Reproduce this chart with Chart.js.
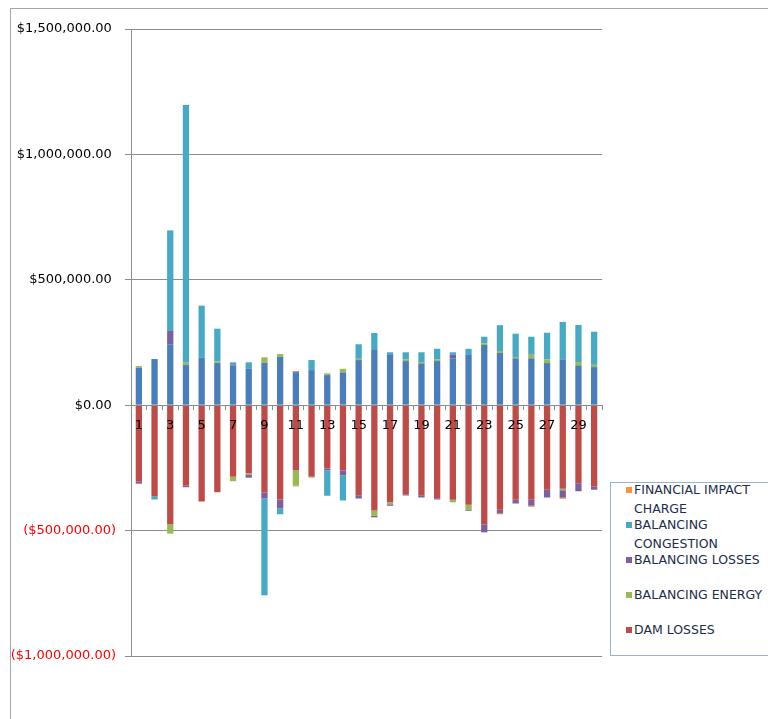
<!DOCTYPE html>
<html>
<head>
<meta charset="utf-8">
<script src="https://cdn.jsdelivr.net/npm/chart.js@4.4.1/dist/chart.umd.min.js"></script>
<style>
html,body{margin:0;padding:0;background:#fff;overflow:hidden;}
#wrap{position:relative;width:768px;height:719px;overflow:hidden;}
#frame{position:absolute;left:10px;top:8px;width:900px;height:900px;border:1px solid #a6a6a6;}
#grafico{position:absolute;left:0;top:0;}
#legenda{position:absolute;left:610px;top:482px;width:220px;height:172px;border:1px solid #95b3d7;overflow:hidden;
  font-family:"DejaVu Sans";font-size:12.5px;color:#1c2c4c;background:#fff;}
.voce{position:relative;height:35px;line-height:18.6px;}
.voce:first-child{margin-top:-2px;}
.voce .box{position:absolute;left:15px;top:6px;width:6px;height:6px;}
.voce .txt{position:absolute;left:23px;top:0;width:150px;}
</style>
</head>
<body>
<div id="wrap">
  <div id="frame"></div>
  <canvas id="grafico" width="768" height="719"></canvas>
  <div id="legenda"></div>
</div>
<script>
// giorni del mese
const categorie = ['1','2','3','4','5','6','7','8','9','10','11','12','13','14','15',
                   '16','17','18','19','20','21','22','23','24','25','26','27','28','29','30'];

// valori in dollari
const damGains = [149000,184000,243000,160000,189000,168000,159000,145000,169000,193000,
                  129000,140000,120000,131000,180000,220000,203000,176000,167000,176000,
                  187000,203000,240000,208000,187000,187000,168000,183000,159000,152000];
const damLosses = [-305000,-363000,-475000,-321000,-383000,-347000,-285000,-272000,-348000,-376000,
                   -260000,-285000,-252000,-260000,-359000,-420000,-387000,-355000,-359000,-371000,
                   -377000,-397000,-475000,-417000,-377000,-377000,-337000,-333000,-311000,-324000];
const balEnergy = [7000,0,-37000,9000,0,7000,-18000,-4000,22000,11000,
                   -61000,-4000,7000,14000,5000,-20000,-8000,6000,5000,6000,
                   -10000,-19000,7000,8000,5000,14000,14000,-6000,13000,9000];
const balLosses = [-8000,0,53000,-6000,0,0,4000,-13000,-24000,-35000,
                   6000,0,-8000,-19000,-13000,-7000,-6000,-5000,-9000,-5000,
                   14000,-5000,-32000,-15000,-15000,-24000,-31000,-30000,-32000,-13000];
const balCongestion = [0,-13000,401000,1028000,208000,130000,8000,26000,-386000,-24000,
                       0,40000,-101000,-101000,58000,68000,8000,29000,39000,43000,
                       10000,22000,26000,103000,93000,72000,107000,149000,148000,132000];
const finImpact = [0,0,0,0,-2000,0,0,0,0,0,
                   -3000,0,0,0,0,0,0,0,0,0,
                   0,0,0,-3000,0,-4000,0,-4000,0,0];

const yTicks = [-1000000,-500000,0,500000,1000000,1500000];

function fmt(v){
  const s = '$' + Math.abs(v).toLocaleString('en-US',{minimumFractionDigits:2,maximumFractionDigits:2});
  return v < 0 ? '(' + s + ')' : s + ' ';
}

const serie = [
  {label:'DAM GAINS', data:damGains, backgroundColor:'#4a7ebb', legenda:false},
  {label:'DAM LOSSES', data:damLosses, backgroundColor:'#be4b48', legenda:true},
  {label:'BALANCING ENERGY', data:balEnergy, backgroundColor:'#98b954', legenda:true},
  {label:'BALANCING LOSSES', data:balLosses, backgroundColor:'#7d5fa0', legenda:true},
  {label:'BALANCING CONGESTION', data:balCongestion, backgroundColor:'#46aac5', legenda:true},
  {label:'FINANCIAL IMPACT CHARGE', data:finImpact, backgroundColor:'#f69240', legenda:true}
];

const grigio = '#8c8c8c';
const font = {family:'DejaVu Sans', size:13};

const chart = new Chart(document.getElementById('grafico').getContext('2d'), {
  type: 'bar',
  data: {
    labels: categorie,
    datasets: serie.map(s => ({
      label: s.label,
      data: s.data,
      backgroundColor: s.backgroundColor,
      borderWidth: 0,
      barPercentage: 0.4,
      categoryPercentage: 1
    }))
  },
  options: {
    responsive: false,
    animation: false,
    layout: {padding: {left: 0, top: 29, right: 166, bottom: 63}},
    plugins: {legend: {display: false}, tooltip: {enabled: false}},
    scales: {
      x: {
        stacked: true,
        position: {y: 0},
        offset: true,
        // etichette, tacche e linea dello zero sopra le barre, come in Excel
        grid: {display: true, drawOnChartArea: false, offset: true, tickLength: 4, color: grigio, z: 1},
        border: {display: true, color: grigio, width: 1, z: 1},
        ticks: {
          z: 1,
          autoSkip: false, maxRotation: 0, padding: 9, color: '#000', font: font,
          callback: (v, i) => i % 2 === 0 ? categorie[i] : ''
        }
      },
      y: {
        stacked: true,
        min: yTicks[0],
        max: yTicks[yTicks.length - 1],
        afterBuildTicks: s => { s.ticks = yTicks.map(v => ({value: v})); },
        afterFit: s => { s.width = 131; },
        grid: {color: grigio, tickLength: 6},
        border: {display: true, color: grigio, width: 1},
        ticks: {
          padding: 9, font: font,
          color: c => c.tick && c.tick.value < 0 ? '#ff0000' : '#000',
          callback: v => fmt(v)
        }
      }
    }
  }
});

// legenda html, in ordine inverso come in Excel
(function(){
  const box = document.getElementById('legenda');
  const ds = chart.data.datasets;
  for(let i = ds.length - 1; i >= 0; i--){
    if(!serie[i].legenda) continue;
    const v = document.createElement('div');
    v.className = 'voce';
    v.innerHTML = '<span class="box" style="background:' + ds[i].backgroundColor + '"></span>' +
                  '<span class="txt">' + ds[i].label + '</span>';
    box.appendChild(v);
  }
})();
</script>
</body>
</html>
